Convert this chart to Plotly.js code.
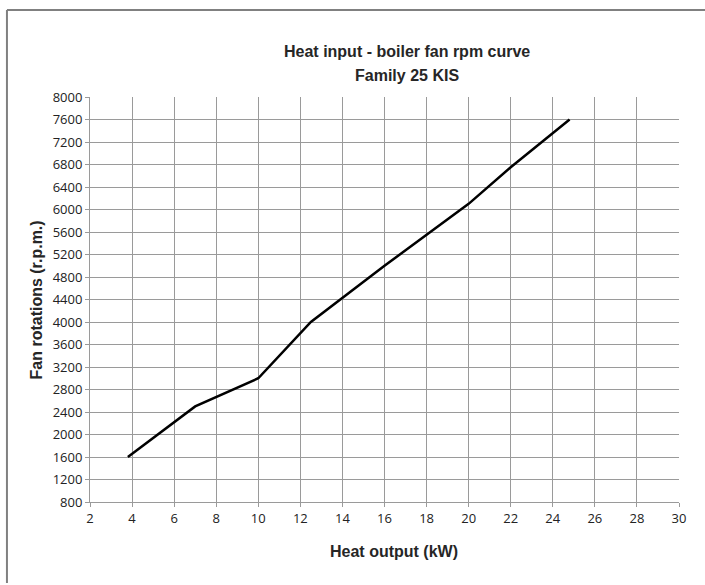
<!DOCTYPE html>
<html>
<head>
<meta charset="utf-8">
<script src="https://cdn.plot.ly/plotly-3.0.1.min.js"></script>
<style>html,body{margin:0;padding:0;background:#fff;}#chart{width:705px;height:585px;}</style>
</head>
<body>
<div id="chart"></div>
<script>
var heatOutput = [3.8, 5.2, 7, 10, 12.5, 16, 18, 20, 22, 24, 24.8];
var fanRpm = [1600, 2000, 2500, 3000, 4000, 5000, 5550, 6100, 6750, 7350, 7600];
var titleLines = ["Heat input - boiler fan rpm curve", "Family 25 KIS"];
var xTitle = "Heat output (kW)";
var yTitle = "Fan rotations (r.p.m.)";

var tickFont = {family: "'Open Sans', sans-serif", size: 13, color: "#222"};
var boldFont = {family: "'Liberation Sans', Arial, sans-serif", size: 16, color: "#262626"};

var trace = {
  x: heatOutput, y: fanRpm, type: "scatter", mode: "lines",
  line: {color: "#000", width: 2.5}, hoverinfo: "skip", showlegend: false
};

var layout = {
  width: 705, height: 585,
  margin: {l: 90, r: 26, t: 97, b: 83},
  paper_bgcolor: "#fff", plot_bgcolor: "#fff",
  xaxis: {
    range: [2, 30], dtick: 2, tick0: 2,
    showgrid: true, gridcolor: "#9a9a9a", gridwidth: 1,
    showline: true, linecolor: "#9a9a9a", linewidth: 1,
    ticks: "outside", ticklen: 4, tickcolor: "#9a9a9a",
    zeroline: false, tickfont: tickFont
  },
  yaxis: {
    range: [800, 8000], dtick: 400, tick0: 800,
    showgrid: true, gridcolor: "#9a9a9a", gridwidth: 1,
    showline: true, linecolor: "#9a9a9a", linewidth: 1,
    ticks: "outside", ticklen: 4, tickcolor: "#9a9a9a",
    zeroline: false, tickfont: tickFont
  },
  annotations: [
    {text: "<b>" + titleLines[0] + "</b>", xref: "paper", yref: "paper", x: 0.538, y: 1, yshift: 46, showarrow: false, font: boldFont, xanchor: "center", yanchor: "middle"},
    {text: "<b>" + titleLines[1] + "</b>", xref: "paper", yref: "paper", x: 0.538, y: 1, yshift: 22, showarrow: false, font: boldFont, xanchor: "center", yanchor: "middle"},
    {text: "<b>" + xTitle + "</b>", xref: "paper", yref: "paper", x: 0.516, y: -0.121, showarrow: false, font: boldFont, xanchor: "center", yanchor: "middle"},
    {text: "<b>" + yTitle + "</b>", xref: "paper", yref: "paper", x: -0.09, y: 0.5, textangle: -90, showarrow: false, font: boldFont, xanchor: "center", yanchor: "middle"}
  ],
  shapes: [
    {type: "line", xref: "paper", yref: "paper", x0: -0.141, x1: 1.045, y0: 1.215, y1: 1.215, line: {color: "#808080", width: 2}},
    {type: "line", xref: "paper", yref: "paper", x0: -0.141, x1: -0.141, y0: 1.215, y1: -0.2, line: {color: "#808080", width: 2}}
  ]
};

Plotly.newPlot("chart", [trace], layout, {displayModeBar: false, staticPlot: true});
</script>
</body>
</html>
